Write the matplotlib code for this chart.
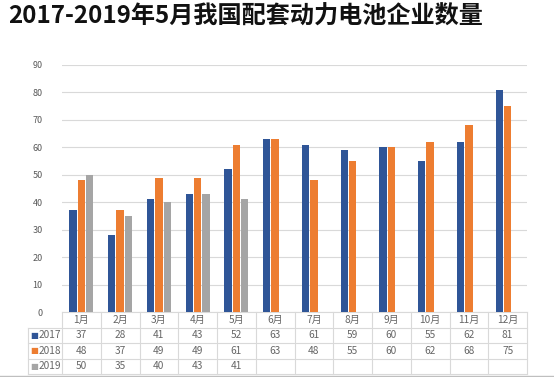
import matplotlib.pyplot as plt
import numpy as np

plt.rcParams['font.family'] = ['Noto Sans CJK SC', 'DejaVu Sans']

months = ['1月', '2月', '3月', '4月', '5月', '6月', '7月', '8月', '9月', '10月', '11月', '12月']
years = ['2017', '2018', '2019']
v2017 = [37, 28, 41, 43, 52, 63, 61, 59, 60, 55, 62, 81]
v2018 = [48, 37, 49, 49, 61, 63, 48, 55, 60, 62, 68, 75]
v2019 = [50, 35, 40, 43, 41]
series = [v2017, v2018, v2019]
colors = ['#2F5597', '#ED7D31', '#A5A5A5']

fig = plt.figure(figsize=(5.54, 3.77), dpi=100)
ax = fig.add_axes([62/554, 65/377, 465/554, 247/377])

w = 0.19
x = np.arange(len(months))
for k, (vals, c) in enumerate(zip(series, colors)):
    xs = x[:len(vals)] + (k - 1) * 0.215
    ax.bar(xs, vals, width=w, color=c, zorder=3)

ax.set_xlim(-0.5, 11.5)
ax.set_ylim(0, 90)
ax.set_yticks(range(0, 91, 10))
ax.yaxis.grid(True, color='#D9D9D9', lw=0.8, zorder=0)
ax.tick_params(axis='y', length=0, labelsize=6.5, labelcolor='#595959', pad=14)
ax.set_xticks([])
for s in ax.spines.values():
    s.set_visible(False)

# data table under the plot
rh = 15.5 / 247
tr = ax.get_xaxis_transform()
line_c = '#D9D9D9'
for r in range(5):
    y = -r * rh
    x0 = -0.5 if r == 0 else -1.38
    ax.plot([x0, 11.5], [y, y], color=line_c, lw=0.8, transform=tr, clip_on=False)
for i in range(13):
    ax.plot([i - 0.5, i - 0.5], [0, -4 * rh], color=line_c, lw=0.8, transform=tr, clip_on=False)
ax.plot([-1.38, -1.38], [-rh, -4 * rh], color=line_c, lw=0.8, transform=tr, clip_on=False)

for i, m in enumerate(months):
    ax.text(i, -0.5 * rh, m, ha='center', va='center', fontsize=7.3, color='#666666', transform=tr)
for r, (yr, vals, c) in enumerate(zip(years, series, colors)):
    yc = -(r + 1.5) * rh
    ax.text(-1.33, yc, '■', ha='left', va='center', fontsize=6, color=c, transform=tr,
            family=['DejaVu Sans'])
    ax.text(-1.1, yc, yr, ha='left', va='center', fontsize=7.3, color='#666666', transform=tr)
    for i, v in enumerate(vals):
        ax.text(i, yc, str(v), ha='center', va='center', fontsize=7.3, color='#666666', transform=tr)

fig.add_artist(plt.Line2D([0, 1], [1.5/377, 1.5/377], color='#BFBFBF', lw=1))

fig.text(8/554, 1 - 17/377, '2017-2019年5月我国配套动力电池企业数量', fontsize=17.4,
         fontweight='bold', color='#111111', ha='left', va='center')

fig.savefig('out.png', dpi=100)
